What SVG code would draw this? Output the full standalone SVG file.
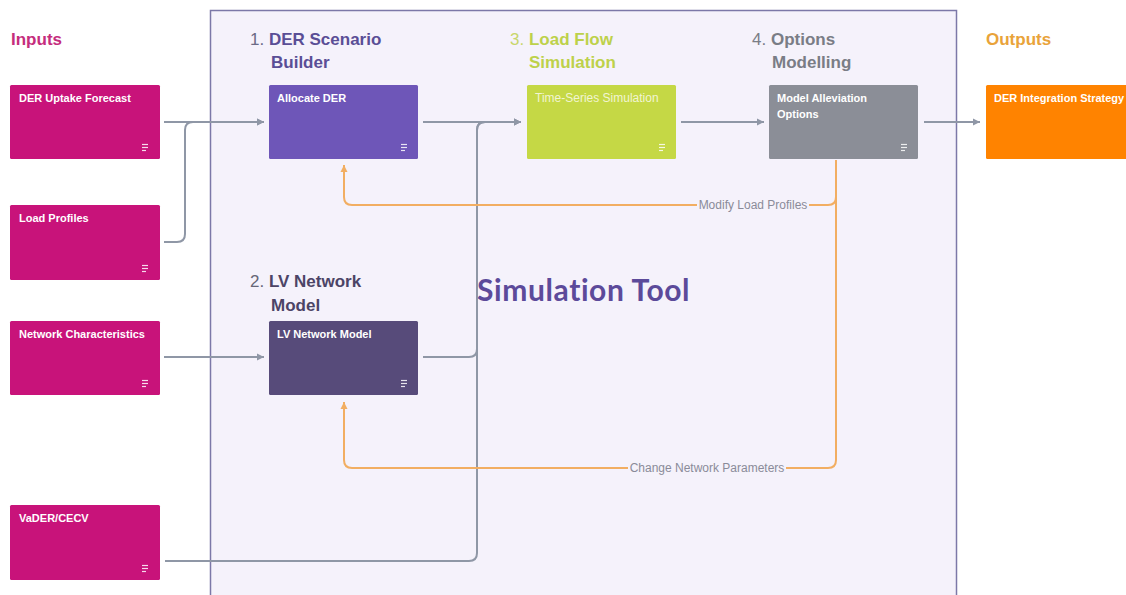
<svg xmlns="http://www.w3.org/2000/svg" width="1126" height="595" viewBox="0 0 1126 595">
<defs>
<style>
.hdr{font-family:"Liberation Sans",Arial,sans-serif;font-size:17px;font-weight:bold}
.num{font-weight:normal}
.lbl{font-family:"Liberation Sans",Arial,sans-serif;font-size:11px;font-weight:bold;fill:#ffffff}
.edge{fill:none;stroke:#8f97a6;stroke-width:2}
.fb{fill:none;stroke:#f2ae62;stroke-width:2}
.elbl{font-family:"Liberation Sans",Arial,sans-serif;font-size:12px;fill:#8a8b99}
.ico{stroke:#ffffff;stroke-width:1.2;opacity:0.85}
</style>
<marker id="ag" markerUnits="userSpaceOnUse" markerWidth="8" markerHeight="8" refX="7" refY="4" orient="auto">
<path d="M0,0.5 L7,4 L0,7.5 z" fill="#8f97a6"/>
</marker>
<marker id="ao" markerUnits="userSpaceOnUse" markerWidth="8" markerHeight="8" refX="7" refY="4" orient="auto">
<path d="M0,0.5 L7,4 L0,7.5 z" fill="#f2ae62"/>
</marker>
<g id="icon">
<line class="ico" x1="0" y1="0.5" x2="6" y2="0.5"/>
<line class="ico" x1="0" y1="3.5" x2="6" y2="3.5"/>
<line class="ico" x1="0" y1="6.5" x2="4" y2="6.5"/>
</g>
</defs>
<rect x="0" y="0" width="1126" height="595" fill="#ffffff"/>

<g id="simulation-tool-frame">
<rect x="210.5" y="10.5" width="746" height="600" fill="#f5f2fb" stroke="#7c78a8" stroke-width="1.5"/>
<text x="477" y="301" font-family="Lato, 'Open Sans', sans-serif" font-size="30" font-weight="bold" letter-spacing="0.6" fill="#5c4a9a">Simulation Tool</text>
</g>

<g id="headers">
<text class="hdr" x="11" y="45" fill="#c52d7d">Inputs</text>
<text class="hdr" x="250" y="45" fill="#5a4e96"><tspan class="num" fill="#6b6a86">1.</tspan> DER Scenario</text>
<text class="hdr" x="271" y="68" fill="#5a4e96">Builder</text>
<text class="hdr" x="250" y="287" fill="#4c4466"><tspan class="num" fill="#666677">2.</tspan> LV Network</text>
<text class="hdr" x="271" y="311" fill="#4c4466">Model</text>
<text class="hdr" x="510" y="45" fill="#bdd14a"><tspan class="num" fill="#c8d66a">3.</tspan> Load Flow</text>
<text class="hdr" x="529" y="68" fill="#bdd14a">Simulation</text>
<text class="hdr" x="752" y="45" fill="#7a7d86"><tspan class="num">4.</tspan> Options</text>
<text class="hdr" x="772" y="68" fill="#7a7d86">Modelling</text>
<text class="hdr" x="986" y="45" fill="#e9a33a">Outputs</text>
</g>

<g id="connectors">
<path class="edge" d="M164,122 H264" marker-end="url(#ag)"/>
<path class="edge" d="M164,242 H177 Q185,242 185,234 V130 Q185,122 193,122 H264" marker-end="url(#ag)"/>
<path class="edge" d="M164,357 H264" marker-end="url(#ag)"/>
<path class="edge" d="M423,122 H521" marker-end="url(#ag)"/>
<path class="edge" d="M423,357 H469 Q477,357 477,349 V130 Q477,122 485,122 H521" marker-end="url(#ag)"/>
<path class="edge" d="M165,561 H469 Q477,561 477,553 V130 Q477,122 485,122 H521" marker-end="url(#ag)"/>
<path class="edge" d="M681,122 H764" marker-end="url(#ag)"/>
<path class="edge" d="M924,122 H980" marker-end="url(#ag)"/>
<path class="fb" d="M836,160 V197 Q836,205 828,205 H352 Q344,205 344,197 V165" marker-end="url(#ao)"/>
<path class="fb" d="M836,160 V460 Q836,468 828,468 H352 Q344,468 344,460 V402" marker-end="url(#ao)"/>
<rect x="697" y="198" width="112" height="14" fill="#f5f2fb"/>
<text class="elbl" x="753" y="209" text-anchor="middle">Modify Load Profiles</text>
<rect x="628" y="461" width="158" height="14" fill="#f5f2fb"/>
<text class="elbl" x="707" y="472" text-anchor="middle">Change Network Parameters</text>
</g>

<g id="der-uptake-forecast">
<rect x="10" y="85" width="150" height="74" rx="1.5" fill="#c8137a"/>
<text class="lbl" x="19" y="102">DER Uptake Forecast</text>
<use href="#icon" x="142" y="144"/>
</g>
<g id="load-profiles">
<rect x="10" y="205" width="150" height="75" rx="1.5" fill="#c8137a"/>
<text class="lbl" x="19" y="222">Load Profiles</text>
<use href="#icon" x="142" y="265"/>
</g>
<g id="network-characteristics">
<rect x="10" y="321" width="150" height="74" rx="1.5" fill="#c8137a"/>
<text class="lbl" x="19" y="338">Network Characteristics</text>
<use href="#icon" x="142" y="380"/>
</g>
<g id="vader-cecv">
<rect x="10" y="505" width="150" height="75" rx="1.5" fill="#c8137a"/>
<text class="lbl" x="19" y="522">VaDER/CECV</text>
<use href="#icon" x="142" y="565"/>
</g>

<g id="allocate-der">
<rect x="269" y="85" width="149" height="74" rx="1.5" fill="#6e56b8"/>
<text class="lbl" x="277" y="102">Allocate DER</text>
<use href="#icon" x="401" y="144"/>
</g>
<g id="lv-network-model">
<rect x="269" y="321" width="149" height="74" rx="1.5" fill="#574b7a"/>
<text class="lbl" x="277" y="338">LV Network Model</text>
<use href="#icon" x="401" y="380"/>
</g>
<g id="time-series-simulation">
<rect x="527" y="85" width="149" height="74" rx="1.5" fill="#c5d845"/>
<text class="lbl" x="535" y="102" style="fill:#f1f5d2;font-weight:normal;font-size:12px">Time-Series Simulation</text>
<use href="#icon" x="659" y="144"/>
</g>
<g id="model-alleviation-options">
<rect x="769" y="85" width="149" height="74" rx="1.5" fill="#8b8e97"/>
<text class="lbl" x="777" y="102">Model Alleviation</text>
<text class="lbl" x="777" y="118">Options</text>
<use href="#icon" x="901" y="144"/>
</g>
<g id="der-integration-strategy">
<rect x="986" y="85" width="150" height="74" rx="1.5" fill="#ff8300"/>
<text class="lbl" x="994" y="102">DER Integration Strategy</text>
</g>
</svg>
